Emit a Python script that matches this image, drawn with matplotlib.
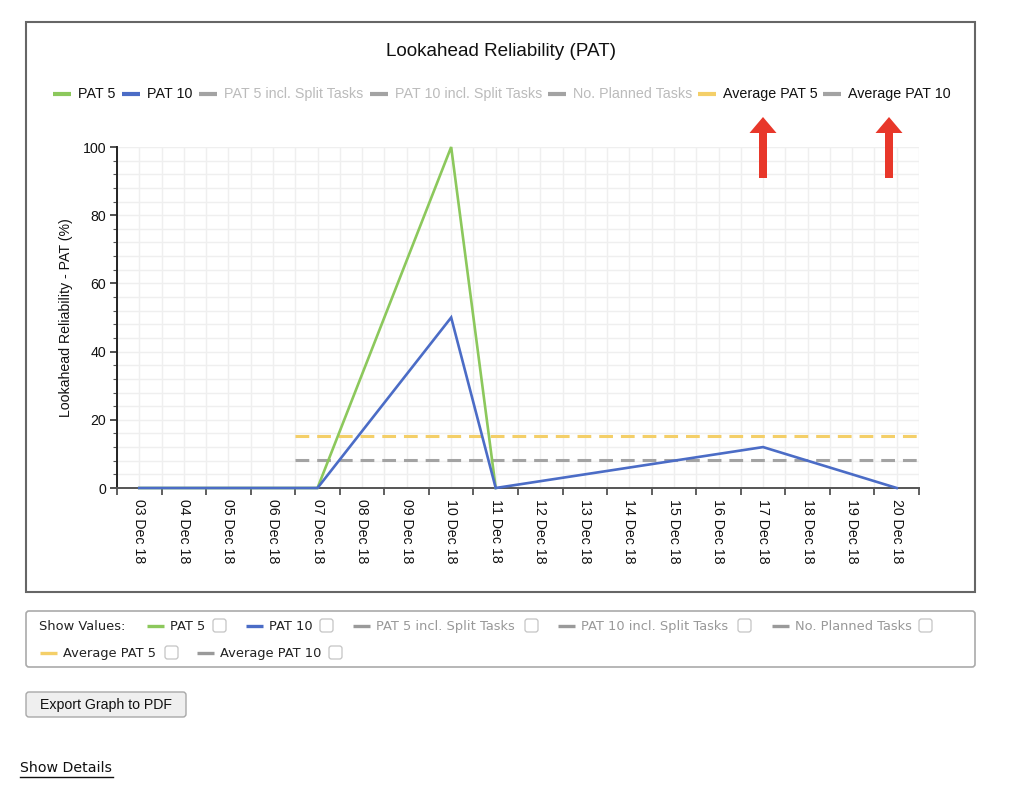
import matplotlib
matplotlib.use('Agg')
import matplotlib.pyplot as plt
from matplotlib.patches import Rectangle, FancyBboxPatch, Polygon
from matplotlib.ticker import MultipleLocator
import numpy as np

plt.rcParams['font.family'] = ['Liberation Sans', 'DejaVu Sans']

W, H = 1030, 805

# ---- data ----
days = ['03 Dec 18', '04 Dec 18', '05 Dec 18', '06 Dec 18', '07 Dec 18', '08 Dec 18',
        '09 Dec 18', '10 Dec 18', '11 Dec 18', '12 Dec 18', '13 Dec 18', '14 Dec 18',
        '15 Dec 18', '16 Dec 18', '17 Dec 18', '18 Dec 18', '19 Dec 18', '20 Dec 18']
pat5 = [0, 0, 0, 0, 0, None, None, 100, 0, None, None, None, None, None, None, None, None, None]
pat10 = [0, 0, 0, 0, 0, None, None, 50, 0, None, None, None, None, None, 12, None, None, 0]
avg_pat5 = 15.3
avg_pat10 = 8.3
avg_from = '07 Dec 18'

legend_names = ['PAT 5', 'PAT 10', 'PAT 5 incl. Split Tasks', 'PAT 10 incl. Split Tasks',
                'No. Planned Tasks', 'Average PAT 5', 'Average PAT 10']
legend_hidden = [False, False, True, True, True, False, False]

GREEN = '#8cc85c'
BLUE = '#4b6cc6'
YELLOW = '#f4cf68'
GREY = '#a3a3a3'
legend_colors = [GREEN, BLUE, GREY, GREY, GREY, YELLOW, GREY]

fig = plt.figure(figsize=(W / 100, H / 100), dpi=100, facecolor='white')

# ---- main chart ----
ax = fig.add_axes([117 / W, 1 - 488 / H, (919 - 117) / W, (488 - 147) / H])
x = np.arange(len(days))


def plot_series(vals, color):
    xs = [i for i, v in enumerate(vals) if v is not None]
    ys = [v for v in vals if v is not None]
    ax.plot(xs, ys, color=color, lw=1.9, zorder=4, solid_joinstyle='miter', clip_on=False)


plot_series(pat5, GREEN)
plot_series(pat10, BLUE)

start = days.index(avg_from) - 0.5
ax.hlines(avg_pat5, start, len(days) - 0.5, colors=YELLOW, lw=2.2, linestyles=(0, (4.5, 2.6)), zorder=3)
ax.hlines(avg_pat10, start, len(days) - 0.5, colors=GREY, lw=2.2, linestyles=(0, (4.5, 2.6)), zorder=3)

ax.set_xlim(-0.5, len(days) - 0.5)
ax.set_ylim(0, 100)
ax.set_xticks(x)
ax.set_xticklabels(days, rotation=-90, fontsize=10.2, color='#111')
ax.set_xticks(np.arange(len(days) + 1) - 0.5, minor=True)
ax.tick_params(axis='x', which='major', length=0, pad=8)
ax.tick_params(axis='x', which='minor', length=5, width=1.2, color='#444')
ax.yaxis.set_major_locator(MultipleLocator(20))
ax.yaxis.set_minor_locator(MultipleLocator(4))
ax.tick_params(axis='y', which='major', length=5, width=1.2, color='#333', labelsize=10.2,
               labelcolor='#111', pad=3)
ax.tick_params(axis='y', which='minor', length=3, width=0.8, color='#555')
ax.grid(True, which='both', color='#efefef', lw=1.0, zorder=0)
ax.set_axisbelow(True)
for s in ['top', 'right']:
    ax.spines[s].set_visible(False)
ax.spines['left'].set_color('#222')
ax.spines['left'].set_linewidth(1.4)
ax.spines['bottom'].set_color('#555')
ax.spines['bottom'].set_linewidth(1.4)

# ---- overlay in pixel coordinates ----
ov = fig.add_axes([0, 0, 1, 1], zorder=5)
ov.set_xlim(0, W)
ov.set_ylim(H, 0)
ov.axis('off')
ov.patch.set_alpha(0)

# chart frame
ov.add_patch(Rectangle((26, 22), 949, 570, fill=False, ec='#666', lw=1.5))
ov.text(501, 51, 'Lookahead Reliability (PAT)', ha='center', va='center', fontsize=13.6, color='#111')
ov.text(66, 318, 'Lookahead Reliability - PAT (%)', rotation=90, ha='center', va='center',
        fontsize=10.2, color='#111')

# top legend
leg_line_x = [53, 122, 199, 370, 548, 698, 823]
leg_y = 94
for lx, name, col, hid in zip(leg_line_x, legend_names, legend_colors, legend_hidden):
    ov.plot([lx, lx + 18], [leg_y, leg_y], color=col, lw=3, solid_capstyle='butt')
    ov.text(lx + 25, leg_y, name, ha='left', va='center', fontsize=10.3,
            color='#bbbbbb' if hid else '#111')

# red arrows
RED = '#e8372a'
for ax_x in [763, 889]:
    ov.add_patch(Polygon([(ax_x, 117), (ax_x + 13.5, 133), (ax_x + 4, 133), (ax_x + 4, 178),
                          (ax_x - 4, 178), (ax_x - 4, 133), (ax_x - 13.5, 133)],
                         closed=True, fc=RED, ec='none', zorder=6))

# show values panel
ov.add_patch(FancyBboxPatch((26, 611), 949, 56, boxstyle='round,pad=0,rounding_size=3',
                            fill=False, ec='#aaaaaa', lw=1.2))
pfont = dict(family='DejaVu Sans', fontsize=9.4, va='center', ha='left')
ov.text(39, 626, 'Show Values:', color='#222', **pfont)
panel_rows = [626, 626, 626, 626, 626, 653, 653]
panel_line_x = [147, 246, 353, 558, 772, 40, 197]
panel_box_x = [213, 320, 525, 738, 919, 165, 329]
for py, lx, bx, name, col, hid in zip(panel_rows, panel_line_x, panel_box_x, legend_names,
                                     legend_colors, legend_hidden):
    lc = '#9a9a9a' if col == GREY else col
    ov.plot([lx, lx + 17], [py, py], color=lc, lw=2.4, solid_capstyle='butt')
    ov.text(lx + 23, py, name, color='#999999' if hid else '#222', **pfont)
    ov.add_patch(FancyBboxPatch((bx, py - 7), 13, 13, boxstyle='round,pad=0,rounding_size=2.5',
                                fc='white', ec='#c4c4c4', lw=0.9))

# export button
ov.add_patch(FancyBboxPatch((26, 692), 160, 25, boxstyle='round,pad=0,rounding_size=3',
                            fc='#efefef', ec='#a8a8a8', lw=1.0))
ov.text(106, 705, 'Export Graph to PDF', ha='center', va='center', fontsize=10.2, color='#111')

# show details link
ov.text(20, 768, 'Show Details', family='DejaVu Sans', fontsize=10.2, ha='left', va='center', color='#111')
ov.plot([20, 113], [776.5, 776.5], color='#111', lw=1.0)

fig.savefig('out.png', dpi=100, facecolor='white')
